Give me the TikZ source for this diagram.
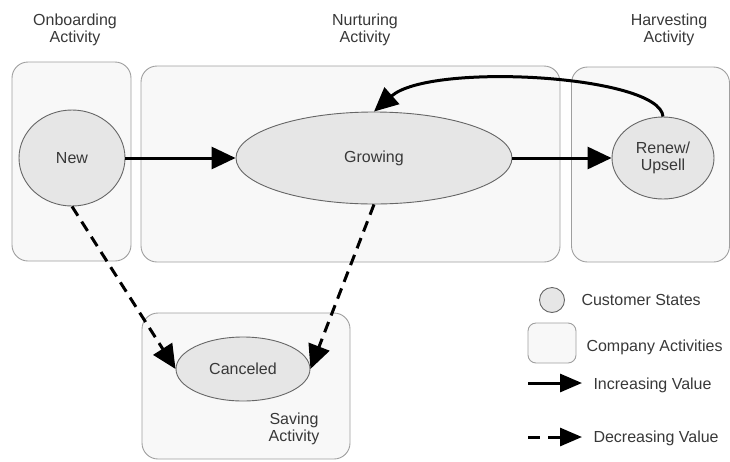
\documentclass[tikz,border=0pt]{standalone}
\usepackage{fontspec}
\setmainfont{Liberation Sans}
\usetikzlibrary{shapes.geometric,arrows.meta}
\definecolor{statefill}{HTML}{E6E6E6}
\definecolor{boxfill}{HTML}{F8F8F8}
\definecolor{inkgray}{HTML}{383838}
\tikzset{
 actbox/.style={draw=gray!75,fill=boxfill,rounded corners=16,line width=.9,inner sep=0},
 state/.style={ellipse,draw=gray!80!black,fill=statefill,line width=.9,inner sep=0,align=center},
 incr/.style={line width=3,-{Triangle[length=24,width=22]}},
 decr/.style={incr,dash pattern=on 11 off 7},
 caption/.style={align=center,text=inkgray}
}
\begin{document}
\begin{tikzpicture}[x=1pt,y=-1pt,font=\fontsize{16}{17}\selectfont,text=inkgray]
\useasboundingbox (0,0) rectangle (730,461);
% activities
\node[actbox,minimum width=119,minimum height=199] (onbox) at (71.5,161.5) {};
\node[actbox,minimum width=419,minimum height=196] (nurbox) at (350.5,164) {};
\node[actbox,minimum width=158,minimum height=195] (harbox) at (650.5,164.5) {};
\node[actbox,minimum width=208,minimum height=146] (savbox) at (246,386) {};
\node[caption] (onlbl) at (75,30) {Onboarding\\Activity};
\node[caption] (nurlbl) at (365,30) {Nurturing\\Activity};
\node[caption] (harlbl) at (669,30) {Harvesting\\Activity};
\node[caption] (savlbl) at (294,429) {Saving\\Activity};
% customer states
\node[state,minimum width=106,minimum height=96] (new) at (72,158) {New};
\node[state,minimum width=276,minimum height=92] (grow) at (374,158) {Growing};
\node[state,minimum width=102,minimum height=82] (renew) at (663,158) {Renew/\\Upsell};
\node[state,minimum width=134,minimum height=64] (cancel) at (243,369) {Canceled};
\draw[incr] (new) -- (grow);
\draw[incr] (grow) -- (renew);
\draw[incr] (renew.north) .. controls (660,75) and (430,62) .. (grow.north);
\draw[decr] (new.south) -- (cancel.west);
\draw[decr] (grow.south) -- (cancel.east);
% legend
\node[state,circle,minimum size=25] (lgstate) at (552,300) {};
\node[anchor=west] (lgstatetxt) at (578,300) {Customer States};
\node[actbox,rounded corners=8,minimum width=48,minimum height=40] (lgbox) at (552,343) {};
\node[anchor=west] (lgboxtxt) at (583,347) {Company Activities};
\coordinate (lgi1) at (528,383);
\coordinate (lgi2) at (582,383);
\draw[incr,-{Triangle[length=22,width=18]}] (lgi1) -- (lgi2);
\node[anchor=west] (lgitxt) at (590,385) {Increasing Value};
\coordinate (lgd1) at (528,437);
\coordinate (lgd2) at (582,437);
\draw[decr,dash pattern=on 12 off 8,-{Triangle[length=22,width=18]}] (lgd1) -- (lgd2);
\node[anchor=west] (lgdtxt) at (590,438) {Decreasing Value};
\end{tikzpicture}
\end{document}
